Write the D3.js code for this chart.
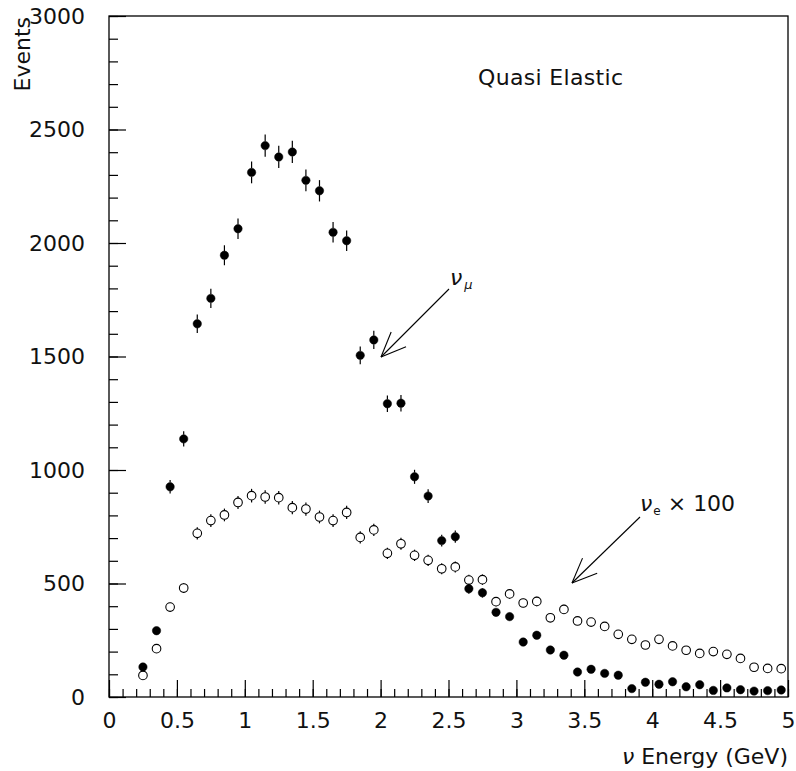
<!DOCTYPE html>
<html><head><meta charset="utf-8">
<script src="https://cdn.jsdelivr.net/npm/d3@7"></script>
<style>
html,body{margin:0;padding:0;background:#fff;}
text{font-family:"DejaVu Sans",sans-serif;font-weight:normal;fill:#111;}
</style></head>
<body><svg id="c" width="796" height="771"></svg>
<script>
const energies = [0.25,0.35,0.45,0.55,0.65,0.75,0.85,0.95,1.05,1.15,1.25,1.35,1.45,1.55,1.65,1.75,1.85,1.95,2.05,2.15,2.25,2.35,2.45,2.55,2.65,2.75,2.85,2.95,3.05,3.15,3.25,3.35,3.45,3.55,3.65,3.75,3.85,3.95,4.05,4.15,4.25,4.35,4.45,4.55,4.65,4.75,4.85,4.95];
const numuEvents = [132,292,926,1137,1644,1756,1946,2063,2311,2429,2379,2401,2276,2230,2047,2010,1505,1573,1292,1294,970,885,689,706,477,459,373,354,242,272,207,184,110,122,104,96,37,65,56,67,45,54,29,40,32,26,28,31];
const numuErrors = [11,17,30,34,41,42,44,45,48,49,49,49,48,47,45,45,39,40,36,36,31,30,26,27,22,21,19,19,16,16,14,14,10,11,10,10,6,8,7,8,7,7,5,6,6,5,5,6];
const nueEvents = [95,213,396,480,721,777,802,857,887,881,878,834,828,793,777,813,703,736,633,675,624,602,565,573,515,517,420,454,414,421,349,386,335,330,311,276,254,229,254,225,206,192,200,188,170,131,126,125];
const nueErrors = [10,15,20,22,27,28,28,29,30,30,30,29,29,28,28,29,27,27,25,26,25,25,24,24,23,23,20,21,20,21,19,20,18,18,18,17,16,15,16,15,14,14,14,14,13,11,11,11];
const xMajorTicks = [0,0.5,1,1.5,2,2.5,3,3.5,4,4.5,5];
const xTickLabels = ["0","0.5","1","1.5","2","2.5","3","3.5","4","4.5","5"];
const yMajorTicks = [0,500,1000,1500,2000,2500,3000];
const yTickLabels = ["0","500","1000","1500","2000","2500","3000"];

const svg = d3.select("#c");
const x = d3.scaleLinear().domain([0,5]).range([109,788]);
const y = d3.scaleLinear().domain([0,3000]).range([697,16]);
const FS = 22;

// frame
svg.append("rect").attr("x",x(0)).attr("y",y(3000)).attr("width",x(5)-x(0)).attr("height",y(0)-y(3000))
  .attr("fill","none").attr("stroke","#000").attr("stroke-width",1.3);

// minor ticks
const xMinor = d3.range(0,51).map(i=>i/10);
const yMinor = d3.range(0,31).map(i=>i*100);
svg.append("g").attr("transform",`translate(0,${y(0)})`)
  .call(d3.axisBottom(x).tickValues(xMinor).tickSize(-8).tickFormat(""))
  .call(g=>g.select(".domain").remove())
  .selectAll("line").attr("stroke","#000").attr("stroke-width",1.2);
svg.append("g").attr("transform",`translate(${x(0)},0)`)
  .call(d3.axisLeft(y).tickValues(yMinor).tickSize(-9).tickFormat(""))
  .call(g=>g.select(".domain").remove())
  .selectAll("line").attr("stroke","#000").attr("stroke-width",1.2);
// major ticks with labels
const gx = svg.append("g").attr("transform",`translate(0,${y(0)})`)
  .call(d3.axisBottom(x).tickValues(xMajorTicks).tickSize(-17).tickPadding(15)
    .tickFormat((d,i)=>xTickLabels[i]));
gx.select(".domain").remove();
gx.selectAll("line").attr("stroke","#000").attr("stroke-width",1.2);
gx.selectAll("text").attr("font-size",FS).attr("font-family","DejaVu Sans").attr("fill","#222");
const gy = svg.append("g").attr("transform",`translate(${x(0)},0)`)
  .call(d3.axisLeft(y).tickValues(yMajorTicks).tickSize(-17).tickPadding(24)
    .tickFormat((d,i)=>yTickLabels[i]));
gy.select(".domain").remove();
gy.selectAll("line").attr("stroke","#000").attr("stroke-width",1.2);
gy.selectAll("text").attr("font-size",FS).attr("font-family","DejaVu Sans").attr("fill","#222");

// axis titles
svg.append("text").attr("x",788).attr("y",764).attr("text-anchor","end").attr("font-size",FS)
  .html('<tspan font-style="italic">ν</tspan> Energy (GeV)');
svg.append("text").attr("transform","translate(30,17) rotate(-90)").attr("text-anchor","end").attr("font-size",FS)
  .text("Events");

// title
svg.append("text").attr("x",478).attr("y",85).attr("font-size",FS).attr("textLength",145).text("Quasi Elastic");

// data
function drawSeries(vals, errs, filled){
  const r = filled ? 4.2 : 4.3;
  const g = svg.append("g");
  energies.forEach((e,i)=>{
    const cx = x(e), cy = y(vals[i]);
    const top = y(vals[i]+errs[i]), bot = y(vals[i]-errs[i]);
    if (cy - top > r) g.append("line").attr("x1",cx).attr("x2",cx).attr("y1",top).attr("y2",cy-r).attr("stroke","#000").attr("stroke-width",1.2);
    if (bot - cy > r) g.append("line").attr("x1",cx).attr("x2",cx).attr("y1",cy+r).attr("y2",bot).attr("stroke","#000").attr("stroke-width",1.2);
    g.append("circle").attr("cx",cx).attr("cy",cy).attr("r",r)
      .attr("fill",filled?"#000":"none").attr("stroke","#000").attr("stroke-width",filled?0.5:1.1);
  });
}
drawSeries(numuEvents, numuErrors, true);
drawSeries(nueEvents, nueErrors, false);

// arrows
function arrow(x1,y1,x2,y2){
  const g = svg.append("g").attr("stroke","#000").attr("stroke-width",1.1).attr("fill","none");
  g.append("line").attr("x1",x1).attr("y1",y1).attr("x2",x2).attr("y2",y2);
  const ang = Math.atan2(y1-y2,x1-x2), L = 27, a = 0.4;
  [ang-a, ang+a].forEach(t=>{
    g.append("line").attr("x1",x2).attr("y1",y2).attr("x2",x2+L*Math.cos(t)).attr("y2",y2+L*Math.sin(t));
  });
}
arrow(449,289,381,357);
arrow(640,517,572,583);

svg.append("text").attr("x",450).attr("y",285).attr("font-size",FS).attr("font-style","italic")
  .html('ν<tspan font-size="13" dy="4" dx="2">μ</tspan>');
svg.append("text").attr("x",640).attr("y",511).attr("font-size",FS)
  .html('<tspan font-style="italic">ν</tspan><tspan font-size="12" dy="4" dx="1">e</tspan><tspan dy="-4" dx="7">×</tspan><tspan dx="7">100</tspan>');
</script></body></html>
